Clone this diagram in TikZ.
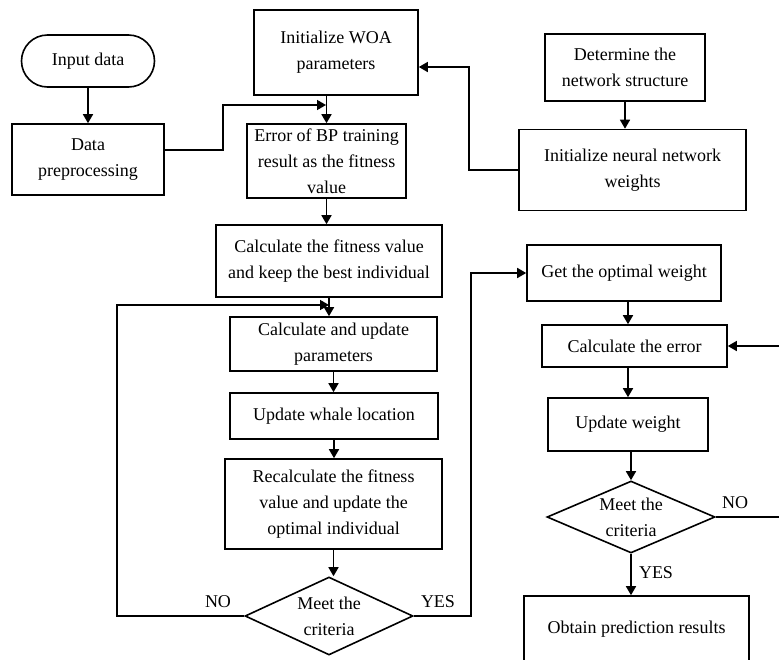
\documentclass[tikz,border=0pt]{standalone}
\usepackage{fontspec}
\setmainfont{Liberation Serif}
\usetikzlibrary{shapes.geometric}
\usetikzlibrary{arrows.meta}

\begin{document}
\begin{tikzpicture}[x=1pt,y=-1pt]
    \tikzstyle{edge}=[draw,line width=1.6pt,-{Triangle[length=9pt,width=10pt]},black!100]
    \tikzstyle{plain}=[draw,line width=1.6pt,-,black!100]
    \tikzstyle{box}=[draw,rectangle,line width=1.6pt,align=center,inner sep=0pt,font=\fontsize{18}{26}\selectfont]
    \tikzstyle{start}=[box,rounded corners=26pt]
    \tikzstyle{cond}=[box,diamond,shape aspect=2.1]
    \tikzstyle{lbl}=[font=\fontsize{18}{21}\selectfont]
    \useasboundingbox (0,0) rectangle (779,659);
    % left column
    \node[start,minimum width=133pt,minimum height=52pt] (in) at (88,61) {Input data};
    \node[box,minimum width=152pt,minimum height=71pt] (prep) at (88,159.5) {Data\\preprocessing};
    % WOA column
    \node[box,minimum width=164pt,minimum height=85pt] (woa) at (336,52.5) {Initialize WOA\\parameters};
    \node[box,minimum width=159pt,minimum height=74pt] (err) at (326.5,161) {Error of BP training\\result as the fitness\\value};
    \node[box,minimum width=226pt,minimum height=72pt] (fit) at (329,261) {Calculate the fitness value\\and keep the best individual};
    \node[box,minimum width=207pt,minimum height=54pt] (cau) at (333.5,344) {Calculate and update\\parameters};
    \node[box,minimum width=208pt,minimum height=46pt] (whale) at (334,416) {Update whale location};
    \node[box,minimum width=217pt,minimum height=90pt] (rec) at (333.5,504) {Recalculate the fitness\\value and update the\\optimal individual};
    \node[cond,minimum width=168pt,minimum height=78pt] (d1) at (329,616) {Meet the\\criteria};
    % BP column
    \node[box,minimum width=160pt,minimum height=67pt] (det) at (625,67.5) {Determine the\\network structure};
    \node[box,minimum width=227pt,minimum height=81pt] (initw) at (632.5,170) {Initialize neural network\\weights};
    \node[box,minimum width=194pt,minimum height=56pt] (opt) at (624,273) {Get the optimal weight};
    \node[box,minimum width=185pt,minimum height=42pt] (cerr) at (634.5,346) {Calculate the error};
    \node[box,minimum width=160pt,minimum height=53pt] (upd) at (628,424.5) {Update weight};
    \node[cond,minimum width=168pt,minimum height=72pt] (d2) at (631,517) {Meet the\\criteria};
    \node[box,minimum width=225pt,minimum height=66pt] (obt) at (636.5,629) {Obtain prediction results};
    \coordinate (j1) at (326,105);
    \coordinate (j2) at (329,305);
    \coordinate (e1) at (779,517);
    \coordinate (e2) at (779,346);
    \draw[edge] (in) -- (prep);
    \draw[edge] ([yshift=9.5pt]prep.east) -- ++(58,0) |- (j1);
    \draw[edge] (woa.south -| err.north) -- (err.north);
    \draw[edge] (err.south) -- (err.south |- fit.north);
    \draw[edge] (fit.south) -- (fit.south |- cau.north);
    \draw[edge] (cau.south) -- (cau.south |- whale.north);
    \draw[edge] (whale.south) -- (whale.south |- rec.north);
    \draw[edge] (rec.south) -- (rec.south |- d1.north);
    \draw[edge] (d1.west) -- ++(-127,0) |- (j2);
    \draw[edge] (d1.east) -- ++(57,0) |- (opt.west);
    \draw[edge] (det.south) -- (det.south |- initw.north);
    \draw[edge] (initw.west) -- ++(-49,0) |- ([yshift=-14.5pt]woa.east);
    \draw[edge] (opt.south -| upd.north) -- (cerr.north -| upd.north);
    \draw[edge] (cerr.south -| upd.north) -- (upd.north);
    \draw[edge] (upd.south -| d2.north) -- (d2.north);
    \draw[edge] (d2.south) -- (d2.south |- obt.north);
    \draw[plain] (d2.east) -- (e1);
    \draw[edge] (e2) -- (cerr.east);
    \node[lbl] (no1) at (218,602) {NO};
    \node[lbl] (yes1) at (438,602) {YES};
    \node[lbl] (no2) at (735,503) {NO};
    \node[lbl] (yes2) at (656,573) {YES};
\end{tikzpicture}
\end{document}
